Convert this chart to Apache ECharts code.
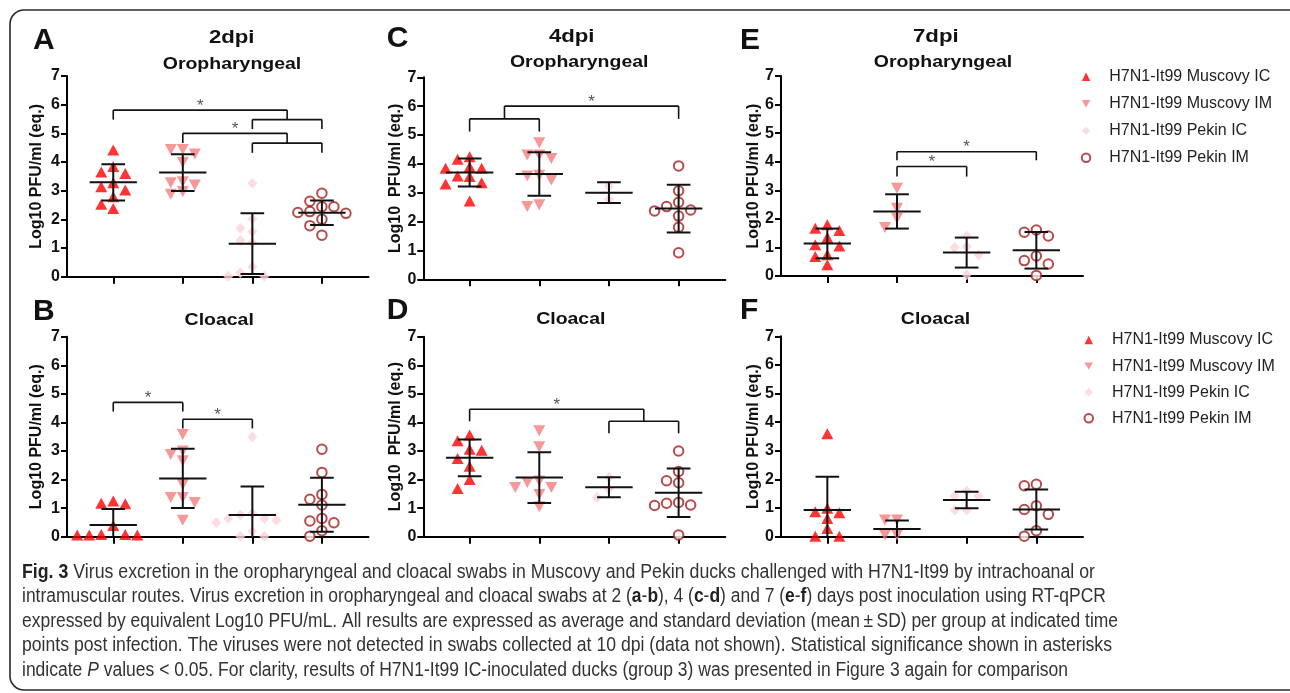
<!DOCTYPE html>
<html><head><meta charset="utf-8">
<script src="https://cdn.jsdelivr.net/npm/echarts@6/dist/echarts.min.js"></script>
<style>html,body{margin:0;padding:0;background:#fff}#c{width:1290px;height:693px}</style>
</head><body><div id="c"></div>
<script>
// ---------------- data ----------------
const groupNames = ['H7N1-It99 Muscovy IC', 'H7N1-It99 Muscovy IM', 'H7N1-It99 Pekin IC', 'H7N1-It99 Pekin IM'];
const categories = [1, 2, 3, 4];
const yTicks = [0, 1, 2, 3, 4, 5, 6, 7];
const panelLetters = ['A', 'B', 'C', 'D', 'E', 'F'];
const dayTitles = ['2dpi', '', '4dpi', '', '7dpi', ''];
const swabTitles = ['Oropharyngeal', 'Cloacal', 'Oropharyngeal', 'Cloacal', 'Oropharyngeal', 'Cloacal'];
const yAxisNames = ['Log10 PFU/ml (eq.)', 'Log10 PFU/ml (eq.)', 'Log10  PFU/ml (eq.)', 'Log10  PFU/ml (eq.)', 'Log10 PFU/ml (eq.)', 'Log10 PFU/ml (eq.)'];

// A: 2dpi oropharyngeal
const A_musIC = [4.42, 3.84, 3.65, 3.6, 3.28, 3.14, 3.02, 2.79, 2.53, 2.38];
const A_musIM = [4.44, 4.44, 4.28, 3.98, 3.31, 3.28, 3.2, 2.97, 2.88];
const A_pekIC = [3.26, 2.01, 1.69, 1.57, 1.26, 1.19, 0.35, 0.14, 0.02, 0.02];
const A_pekIM = [2.91, 2.63, 2.44, 2.44, 2.27, 2.24, 2.21, 2.0, 1.78, 1.45];
const A_mean = [3.29, 3.63, 1.15, 2.23];
const A_sd = [0.635, 0.64, 1.06, 0.43];
const A_sig = [{l: [1], r: [3, 4], y: 5.81, h: 0.33}, {l: [2], r: [3, 4], y: 5.0, h: 0.34}];

// B: 2dpi cloacal
const B_musIC = [1.25, 1.17, 1.15, 0.39, 0.08, 0.06, 0.06, 0.06, 0.08];
const B_musIM = [3.58, 3.0, 2.88, 2.66, 1.83, 1.37, 1.37, 1.2, 0.58];
const B_pekIC = [3.5, 0.82, 0.76, 0.64, 0.64, 0.58, 0.5, 0.18, 0.02, 0.02];
const B_pekIM = [3.06, 2.25, 1.48, 1.31, 1.11, 0.64, 0.55, 0.49, 0.21, 0.02];
const B_mean = [0.41, 2.04, 0.76, 1.12];
const B_sd = [0.56, 1.035, 1.0, 0.945];
const B_sig = [{l: [1], r: [2], y: 4.7, h: 0.32}, {l: [2], r: [3], y: 4.11, h: 0.32}];

// C: 4dpi oropharyngeal
const C_musIC = [4.25, 4.16, 3.9, 3.85, 3.85, 3.58, 3.56, 3.35, 3.3, 2.71];
const C_musIM = [4.73, 4.31, 4.31, 4.19, 3.61, 3.58, 3.44, 2.58, 2.52];
const C_pekIC = [3.23, 2.77];
const C_pekIM = [3.93, 3.07, 2.67, 2.52, 2.4, 2.37, 2.19, 1.8, 0.92];
const C_mean = [3.7, 3.65, 3.0, 2.45];
const C_sd = [0.485, 0.755, 0.36, 0.825];
const C_sig = [{l: [1, 2], r: [4], y: 6.0, h: 0.44}];

// D: 4dpi cloacal
const D_musIC = [3.56, 3.36, 3.06, 3.03, 2.74, 2.47, 2.0, 1.69];
const D_musIM = [3.71, 3.15, 1.95, 1.9, 1.72, 1.72, 1.48, 1.05];
const D_pekIC = [2.08, 1.66, 1.37];
const D_pekIM = [3.0, 2.28, 1.96, 1.89, 1.2, 1.17, 1.11, 1.09, 0.06];
const D_mean = [2.76, 2.07, 1.73, 1.54];
const D_sd = [0.64, 0.89, 0.35, 0.85];
const D_sig = [{l: [1], r: [3, 4], y: 4.46, h: 0.42}];

// E: 7dpi oropharyngeal
const E_musIC = [1.79, 1.67, 1.59, 1.35, 1.09, 1.05, 0.74, 0.68, 0.39];
const E_musIM = [3.07, 2.37, 2.02, 1.7];
const E_pekIC = [1.4, 1.03, 1.0, 0.74, 0.04];
const E_pekIM = [1.61, 1.53, 1.4, 0.7, 0.54, 0.42, 0.02];
const E_mean = [1.14, 2.26, 0.82, 0.9];
const E_sd = [0.52, 0.6, 0.525, 0.64];
const E_sig = [{l: [2], r: [3], y: 3.83, h: 0.35}, {l: [2], r: [4], y: 4.35, h: 0.3}];

// F: 7dpi cloacal
const F_musIC = [3.6, 0.99, 0.87, 0.84, 0.64, 0.29, 0.02, 0.02];
const F_musIM = [0.58, 0.58, 0.06, 0.06];
const F_pekIC = [1.6, 1.42, 1.42, 0.93, 0.93];
const F_pekIM = [1.83, 1.78, 1.08, 0.95, 0.78, 0.21, 0.02];
const F_mean = [0.93, 0.27, 1.28, 0.95];
const F_sd = [1.16, 0.3, 0.29, 0.695];
const F_sig = [];

const captionLines = [
  '{b|Fig. 3} Virus excretion in the oropharyngeal and cloacal swabs in Muscovy and Pekin ducks challenged with H7N1-It99 by intrachoanal or',
  'intramuscular routes. Virus excretion in oropharyngeal and cloacal swabs at 2 ({b|a}-{b|b}), 4 ({b|c}-{b|d}) and 7 ({b|e}-{b|f}) days post inoculation using RT-qPCR',
  'expressed by equivalent Log10 PFU/mL. All results are expressed as average and standard deviation (mean\u2009\u00b1\u2009SD) per group at indicated time',
  'points post infection. The viruses were not detected in swabs collected at 10 dpi (data not shown). Statistical significance shown in asterisks',
  'indicate {i|P} values < 0.05. For clarity, results of H7N1-It99 IC-inoculated ducks (group 3) was presented in Figure 3 again for comparison'
];

// ---------------- assembly ----------------
const panels = [
  {groups: [A_musIC, A_musIM, A_pekIC, A_pekIM], mean: A_mean, sd: A_sd, sig: A_sig},
  {groups: [B_musIC, B_musIM, B_pekIC, B_pekIM], mean: B_mean, sd: B_sd, sig: B_sig},
  {groups: [C_musIC, C_musIM, C_pekIC, C_pekIM], mean: C_mean, sd: C_sd, sig: C_sig},
  {groups: [D_musIC, D_musIM, D_pekIC, D_pekIM], mean: D_mean, sd: D_sd, sig: D_sig},
  {groups: [E_musIC, E_musIM, E_pekIC, E_pekIM], mean: E_mean, sd: E_sd, sig: E_sig},
  {groups: [F_musIC, F_musIM, F_pekIC, F_pekIM], mean: F_mean, sd: F_sd, sig: F_sig}
];

// layout (style only)
const gridRects = [
  {left: 67, top: 76, width: 301.5, height: 200.7},
  {left: 67, top: 336.7, width: 301.5, height: 200},
  {left: 423.3, top: 77.3, width: 302, height: 202},
  {left: 423.3, top: 336.7, width: 302, height: 200},
  {left: 781, top: 76, width: 302, height: 200},
  {left: 781, top: 336.3, width: 302, height: 200.4}
];
const nameGaps = [22, 22, 19.5, 19.5, 19.5, 19.5];
const titleLayout = [
  {letter: [33, 41], day: [231.7, 37.5], swab: [232, 64]},
  {letter: [33, 311.7], swab: [219.2, 320]},
  {letter: [386.7, 39], day: [571.7, 36.7], swab: [579.2, 62]},
  {letter: [386.7, 310.5], swab: [570.8, 319]},
  {letter: [740, 41], day: [935.8, 36.7], swab: [943, 62]},
  {letter: [740, 311], swab: [935.5, 319]}
];
const captionLayout = {x: 22, y0: 572.5, dy: 24.5, widths: [1071, 1080, 1096, 1090, 1046]};
const FONT = '"Liberation Sans", Arial, Helvetica, sans-serif';
const groupStyle = [
  {symbol: 'triangle', symbolSize: [12, 11], itemStyle: {color: '#ff0000'}},
  {symbol: 'path://M0,0L12,0L6,10.4Z', symbolSize: [12, 11], itemStyle: {color: '#f57d7d'}},
  {symbol: 'diamond', symbolSize: [10, 11], itemStyle: {color: '#fcd3d7'}},
  {symbol: 'emptyCircle', symbolSize: 9.5, itemStyle: {color: '#a51d1d', borderColor: '#a51d1d', borderWidth: 2.2}}
];

// beeswarm spread of points around each category (computed, not typed)
function swarm(vals, cat) {
  const XPX = 69.5, YPX = 28.7, D = 12, TX = 10.5, TY = 9.5;
  const order = vals.map((v, i) => i).sort((a, b) => vals[b] - vals[a]);
  const placed = [];
  const res = new Array(vals.length);
  const cands = [0, -1, 1, -2, 2, -3, 3, -4, 4];
  for (const i of order) {
    const py = vals[i] * YPX;
    let off = 0;
    for (const k of cands) {
      const px = k * D;
      if (!placed.some(p => Math.abs(p.px - px) < TX && Math.abs(p.py - py) < TY)) { off = px; break; }
    }
    placed.push({px: off, py: py});
    res[i] = [cat + off / XPX, vals[i]];
  }
  return res;
}

const grid = [], xAxis = [], yAxis = [], series = [];
panels.forEach((p, pi) => {
  grid.push(Object.assign({containLabel: false}, gridRects[pi]));
  xAxis.push({
    type: 'value', gridIndex: pi, min: 0.335, max: 4.67,
    axisLine: {show: true, lineStyle: {color: '#000', width: 2}},
    axisTick: {show: true, customValues: categories, length: 7, lineStyle: {color: '#000', width: 2}},
    axisLabel: {show: false}, splitLine: {show: false}
  });
  yAxis.push({
    type: 'value', gridIndex: pi, min: 0, max: 7, interval: 1,
    axisLine: {show: true, lineStyle: {color: '#000', width: 2}},
    axisTick: {show: true, length: 6, lineStyle: {color: '#000', width: 2}},
    axisLabel: {show: true, margin: 7, fontSize: 16, fontWeight: 'bold', fontFamily: FONT, color: '#111',
      customValues: yTicks},
    splitLine: {show: false},
    name: yAxisNames[pi], nameLocation: 'middle', nameGap: nameGaps[pi], nameRotate: 90,
    nameTextStyle: {fontSize: 16, fontWeight: 'bold', fontFamily: FONT, color: '#111'}
  });
  p.groups.forEach((vals, gi) => {
    series.push(Object.assign({
      type: 'scatter', name: groupNames[gi], xAxisIndex: pi, yAxisIndex: pi, clip: false, z: 2,
      data: swarm(vals, categories[gi])
    }, groupStyle[gi]));
  });
  // mean ± SD
  series.push({
    type: 'custom', xAxisIndex: pi, yAxisIndex: pi, clip: true, z: 5, silent: true,
    encode: {x: 0, y: 1},
    data: categories.map((c, gi) => [c, p.mean[gi], p.sd[gi]]),
    renderItem: function (params, api) {
      const x = api.value(0), m = api.value(1), s = api.value(2);
      const seg = (x1, y1, x2, y2) => {
        const a = api.coord([x1, y1]), b = api.coord([x2, y2]);
        return {type: 'line', shape: {x1: a[0], y1: a[1], x2: b[0], y2: b[1]}, style: {stroke: '#111', lineWidth: 2}};
      };
      return {type: 'group', children: [
        seg(x, m + s, x, m - s),
        seg(x - 0.17, m + s, x + 0.17, m + s),
        seg(x - 0.17, m - s, x + 0.17, m - s),
        seg(x - 0.34, m, x + 0.34, m)
      ]};
    }
  });
  // significance brackets
  if (p.sig.length) {
    const avg = a => a.reduce((s, v) => s + v, 0) / a.length;
    series.push({
      type: 'custom', xAxisIndex: pi, yAxisIndex: pi, clip: false, z: 6, silent: true,
      encode: {x: 0, y: 1},
      data: p.sig.map((b, bi) => [(avg(b.l) + avg(b.r)) / 2, b.y, bi]),
      renderItem: function (params, api) {
        const b = p.sig[api.value(2)];
        const ch = [];
        const seg = (x1, y1, x2, y2) => {
          const a = api.coord([x1, y1]), c = api.coord([x2, y2]);
          ch.push({type: 'line', shape: {x1: a[0], y1: a[1], x2: c[0], y2: c[1]}, style: {stroke: '#111', lineWidth: 1.6}});
        };
        const xl = avg(b.l), xr = avg(b.r), y = b.y, h = b.h;
        seg(xl, y, xr, y);
        [b.l, b.r].forEach(side => {
          const xm = avg(side);
          seg(xm, y, xm, y - h);
          if (side.length > 1) {
            seg(side[0], y - h, side[side.length - 1], y - h);
            side.forEach(g => seg(g, y - h, g, y - 2 * h));
          }
        });
        const t = api.coord([(xl + xr) / 2, y]);
        ch.push({type: 'text', x: t[0], y: t[1] - 4,
          style: {text: '*', fontSize: 17, fontFamily: FONT, fill: '#555', align: 'center', verticalAlign: 'middle'}});
        return {type: 'group', children: ch};
      }
    });
  }
});

// titles, caption, frame
const graphic = [];
graphic.push({type: 'rect', shape: {x: 10, y: 10, width: 1296, height: 680, r: 14},
  style: {fill: 'none', stroke: '#2a2a2a', lineWidth: 1.6}, silent: true});
titleLayout.forEach((t, pi) => {
  graphic.push({type: 'text', x: t.letter[0], y: t.letter[1],
    style: {text: panelLetters[pi], fontSize: 30, fontWeight: 'bold', fontFamily: FONT, fill: '#111', align: 'left', verticalAlign: 'middle'}});
  if (dayTitles[pi]) {
    graphic.push({type: 'text', x: t.day[0], y: t.day[1], scaleX: 1.2,
      style: {text: dayTitles[pi], fontSize: 18.5, fontWeight: 'bold', fontFamily: FONT, fill: '#111', align: 'center', verticalAlign: 'middle'}});
  }
  graphic.push({type: 'text', x: t.swab[0], y: t.swab[1], scaleX: 1.18,
    style: {text: swabTitles[pi], fontSize: 16.5, fontWeight: 'bold', fontFamily: FONT, fill: '#111', align: 'center', verticalAlign: 'middle'}});
});
// caption: a regular sans face, narrowed horizontally to the reference's condensed look
const CAP_SIZE = 19.5;
const measureCtx = document.createElement('canvas').getContext('2d');
measureCtx.font = CAP_SIZE + 'px ' + FONT;
captionLines.forEach((line, li) => {
  const plain = line.replace(/\{[bi]\|([^}]*)\}/g, '$1');
  const w = measureCtx.measureText(plain).width || captionLayout.widths[li];
  const sx = captionLayout.widths[li] / w;
  graphic.push({type: 'text', x: captionLayout.x, y: captionLayout.y0 + li * captionLayout.dy, scaleX: sx,
    style: {text: line, fontSize: CAP_SIZE, fontFamily: FONT, fill: '#333', align: 'left', verticalAlign: 'middle',
      rich: {
        b: {fontSize: CAP_SIZE, fontFamily: FONT, fontWeight: 'bold', fill: '#222'},
        i: {fontSize: CAP_SIZE, fontFamily: FONT, fontStyle: 'italic', fill: '#333'}
      }}});
});

const legendBase = {
  orient: 'vertical', itemWidth: 8.5, itemHeight: 8.5, selectedMode: false, padding: 0,
  textStyle: {fontSize: 16, fontFamily: FONT, color: '#222', lineHeight: 16, padding: [0, 0, 0, 14]},
  data: groupNames
};
const legend = [
  Object.assign({}, legendBase, {left: 1080.8, top: 68.7, itemGap: 11}),
  Object.assign({}, legendBase, {left: 1083.5, top: 332, itemGap: 10.1})
];

const chart = echarts.init(document.getElementById('c'), null, {renderer: 'canvas'});
chart.setOption({
  backgroundColor: '#fff',
  animation: false,
  grid: grid, xAxis: xAxis, yAxis: yAxis, series: series,
  legend: legend, graphic: graphic
});
</script></body></html>
